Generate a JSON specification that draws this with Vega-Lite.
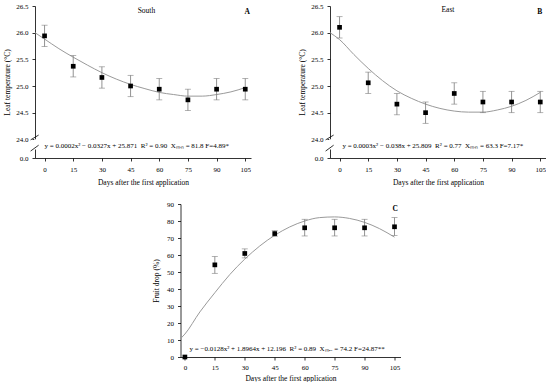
{
  "$schema": "https://vega.github.io/schema/vega-lite/v6.json",
  "padding": {"left": 3, "top": 2, "right": 0, "bottom": 0},
  "background": "white",
  "config": {
    "view": {"stroke": null},
    "font": "Liberation Serif",
    "text": {"font": "Liberation Serif"},
    "axis": {"labelFont": "Liberation Serif", "titleFont": "Liberation Serif", "labelFontSize": 7, "titleFontSize": 7.5, "titleFontWeight": "normal", "labelColor": "black", "titleColor": "black", "domainColor": "black", "tickColor": "black", "tickSize": 3, "grid": false, "domainWidth": 0.8, "tickWidth": 0.8, "labelPadding": 4}
  },
  "datasets": {
    "ptsA": [
      {"day": 0, "v": 25.94, "lo": 25.74, "hi": 26.14},
      {"day": 15, "v": 25.37, "lo": 25.17, "hi": 25.57},
      {"day": 30, "v": 25.16, "lo": 24.96, "hi": 25.36},
      {"day": 45, "v": 25.0, "lo": 24.8, "hi": 25.2},
      {"day": 60, "v": 24.94, "lo": 24.74, "hi": 25.14},
      {"day": 75, "v": 24.74, "lo": 24.54, "hi": 24.94},
      {"day": 90, "v": 24.94, "lo": 24.74, "hi": 25.14},
      {"day": 105, "v": 24.94, "lo": 24.74, "hi": 25.14}
    ],
    "curveA": [
      {"day": -5, "v": 26.0}, {"day": 0, "v": 25.88}, {"day": 7.5, "v": 25.7}, {"day": 15, "v": 25.54},
      {"day": 22.5, "v": 25.39}, {"day": 30, "v": 25.25}, {"day": 37.5, "v": 25.13}, {"day": 45, "v": 25.03},
      {"day": 52.5, "v": 24.95}, {"day": 60, "v": 24.88}, {"day": 67.5, "v": 24.84}, {"day": 75, "v": 24.81},
      {"day": 82.5, "v": 24.81}, {"day": 90, "v": 24.84}, {"day": 97.5, "v": 24.89}, {"day": 105, "v": 24.97}
    ],
    "ptsB": [
      {"day": 0, "v": 26.1, "lo": 25.9, "hi": 26.3},
      {"day": 15, "v": 25.06, "lo": 24.86, "hi": 25.26},
      {"day": 30, "v": 24.66, "lo": 24.46, "hi": 24.86},
      {"day": 45, "v": 24.5, "lo": 24.3, "hi": 24.7},
      {"day": 60, "v": 24.86, "lo": 24.66, "hi": 25.06},
      {"day": 75, "v": 24.7, "lo": 24.5, "hi": 24.9},
      {"day": 90, "v": 24.7, "lo": 24.5, "hi": 24.9},
      {"day": 105, "v": 24.7, "lo": 24.5, "hi": 24.9}
    ],
    "curveB": [
      {"day": -5, "v": 26.0}, {"day": 0, "v": 25.87}, {"day": 7.5, "v": 25.59}, {"day": 15, "v": 25.33},
      {"day": 22.5, "v": 25.1}, {"day": 30, "v": 24.91}, {"day": 37.5, "v": 24.77}, {"day": 45, "v": 24.66},
      {"day": 52.5, "v": 24.58}, {"day": 60, "v": 24.53}, {"day": 67.5, "v": 24.51}, {"day": 75, "v": 24.51},
      {"day": 82.5, "v": 24.55}, {"day": 90, "v": 24.62}, {"day": 97.5, "v": 24.73}, {"day": 105, "v": 24.88}
    ],
    "ptsC": [
      {"day": 0, "v": 0, "lo": 0, "hi": 0},
      {"day": 15, "v": 54.2, "lo": 49.2, "hi": 59.1},
      {"day": 30, "v": 60.9, "lo": 58.3, "hi": 63.6},
      {"day": 45, "v": 72.6, "lo": 71.0, "hi": 74.3},
      {"day": 60, "v": 76.0, "lo": 71.2, "hi": 81.0},
      {"day": 75, "v": 76.0, "lo": 71.2, "hi": 81.0},
      {"day": 90, "v": 76.0, "lo": 71.2, "hi": 81.0},
      {"day": 105, "v": 76.6, "lo": 71.4, "hi": 82.0}
    ],
    "curveC": [
      {"day": -2, "v": 11.0}, {"day": 0, "v": 13.5}, {"day": 7.5, "v": 26.5}, {"day": 15, "v": 37.8},
      {"day": 22.5, "v": 48.5}, {"day": 30, "v": 57.6}, {"day": 37.5, "v": 65.3}, {"day": 45, "v": 71.6},
      {"day": 52.5, "v": 76.5}, {"day": 60, "v": 80.0}, {"day": 67.5, "v": 82.0}, {"day": 75, "v": 82.4},
      {"day": 82.5, "v": 81.5}, {"day": 90, "v": 79.2}, {"day": 97.5, "v": 75.5}, {"day": 105, "v": 70.5}
    ],
    "txtA": [
      {"day": 53.3, "v": 26.41, "text": "South", "kind": "title"},
      {"day": 106, "v": 26.39, "text": "A", "kind": "letter"},
      {"day": 0, "v": 23.87, "text": "y = 0.0002x² − 0.0327x + 25.871\u00a0\u00a0R² = 0.90\u00a0\u00a0Xₘᵢₙ = 81.8 F=4.89*", "kind": "eq"}
    ],
    "txtB": [
      {"day": 56.7, "v": 26.42, "text": "East", "kind": "title"},
      {"day": 104.7, "v": 26.39, "text": "B", "kind": "letter"},
      {"day": 1.5, "v": 23.87, "text": "y = 0.0003x² − 0.038x + 25.809\u00a0\u00a0R² = 0.77\u00a0\u00a0Xₘᵢₙ = 63.3 F=7.17*", "kind": "eq"}
    ],
    "txtC": [
      {"day": 105.3, "v": 87, "text": "C", "kind": "letter"},
      {"day": 2.3, "v": 5, "text": "y = −0.0128x² + 1.8964x + 12.196\u00a0\u00a0R² = 0.89\u00a0\u00a0Xₘₐₓ = 74.2 F=24.87**", "kind": "eq"}
    ],
    "brk": [
      {"day": -7.3, "v": 23.99, "day2": -3.1, "v2": 24.08},
      {"day": -7.3, "v": 23.78, "day2": -3.1, "v2": 23.89}
    ],
    "gap": [
      {"day": -5, "v": 23.81, "v2": 24.0}
    ]
  },
  "vconcat": [
    {
      "hconcat": [
        {
          "width": 216, "height": 152,
          "encoding": {
            "x": {"field": "day", "type": "quantitative", "scale": {"domain": [-5, 108], "nice": false, "zero": false}, "axis": {"values": [0, 15, 30, 45, 60, 75, 90, 105], "title": "Days after the first application", "titlePadding": 6}},
            "y": {"field": "v", "type": "quantitative", "scale": {"domain": [23.65, 26.5], "nice": false, "zero": false}, "axis": {"values": [23.65, 24, 24.5, 25, 25.5, 26, 26.5], "labelExpr": "datum.value < 23.9 ? '0.0' : format(datum.value, '.1f')", "title": "Leaf temperature (°C)", "titlePadding": 4}}
          },
          "layer": [
            {"data": {"name": "curveA"}, "mark": {"type": "line", "color": "#9a9a9a", "strokeWidth": 1, "interpolate": "monotone"}},
            {"data": {"name": "gap"}, "mark": {"type": "rule", "color": "white", "strokeWidth": 2}, "encoding": {"y2": {"field": "v2"}}},
            {"data": {"name": "brk"}, "mark": {"type": "rule", "color": "black", "strokeWidth": 0.8}, "encoding": {"x2": {"field": "day2"}, "y2": {"field": "v2"}}},
            {"data": {"name": "ptsA"}, "mark": {"type": "errorbar", "color": "#777", "ticks": {"size": 6, "color": "#777", "thickness": 0.8}, "rule": {"strokeWidth": 0.8}}, "encoding": {"y": {"field": "lo", "type": "quantitative", "title": "Leaf temperature (°C)"}, "y2": {"field": "hi"}}},
            {"data": {"name": "ptsA"}, "mark": {"type": "square", "color": "black", "opacity": 1, "size": 22}},
            {"data": {"name": "txtA"}, "transform": [{"filter": "datum.kind == 'title'"}], "mark": {"type": "text", "fontSize": 7.5, "color": "black", "align": "center", "baseline": "middle"}, "encoding": {"text": {"field": "text"}}},
            {"data": {"name": "txtA"}, "transform": [{"filter": "datum.kind == 'letter'"}], "mark": {"type": "text", "fontSize": 7.5, "fontWeight": "bold", "color": "black", "align": "center", "baseline": "middle"}, "encoding": {"text": {"field": "text"}}},
            {"data": {"name": "txtA"}, "transform": [{"filter": "datum.kind == 'eq'"}], "mark": {"type": "text", "fontSize": 7, "color": "black", "align": "left", "baseline": "middle"}, "encoding": {"text": {"field": "text"}}}
          ]
        },
        {
          "width": 216, "height": 152,
          "encoding": {
            "x": {"field": "day", "type": "quantitative", "scale": {"domain": [-5, 108], "nice": false, "zero": false}, "axis": {"values": [0, 15, 30, 45, 60, 75, 90, 105], "title": "Days after the first application", "titlePadding": 6}},
            "y": {"field": "v", "type": "quantitative", "scale": {"domain": [23.65, 26.5], "nice": false, "zero": false}, "axis": {"values": [23.65, 24, 24.5, 25, 25.5, 26, 26.5], "labelExpr": "datum.value < 23.9 ? '0.0' : format(datum.value, '.1f')", "title": "Leaf temperature (°C)", "titlePadding": 4}}
          },
          "layer": [
            {"data": {"name": "curveB"}, "mark": {"type": "line", "color": "#9a9a9a", "strokeWidth": 1, "interpolate": "monotone"}},
            {"data": {"name": "gap"}, "mark": {"type": "rule", "color": "white", "strokeWidth": 2}, "encoding": {"y2": {"field": "v2"}}},
            {"data": {"name": "brk"}, "mark": {"type": "rule", "color": "black", "strokeWidth": 0.8}, "encoding": {"x2": {"field": "day2"}, "y2": {"field": "v2"}}},
            {"data": {"name": "ptsB"}, "mark": {"type": "errorbar", "color": "#777", "ticks": {"size": 6, "color": "#777", "thickness": 0.8}, "rule": {"strokeWidth": 0.8}}, "encoding": {"y": {"field": "lo", "type": "quantitative", "title": "Leaf temperature (°C)"}, "y2": {"field": "hi"}}},
            {"data": {"name": "ptsB"}, "mark": {"type": "square", "color": "black", "opacity": 1, "size": 22}},
            {"data": {"name": "txtB"}, "transform": [{"filter": "datum.kind == 'title'"}], "mark": {"type": "text", "fontSize": 7.5, "color": "black", "align": "center", "baseline": "middle"}, "encoding": {"text": {"field": "text"}}},
            {"data": {"name": "txtB"}, "transform": [{"filter": "datum.kind == 'letter'"}], "mark": {"type": "text", "fontSize": 7.5, "fontWeight": "bold", "color": "black", "align": "center", "baseline": "middle"}, "encoding": {"text": {"field": "text"}}},
            {"data": {"name": "txtB"}, "transform": [{"filter": "datum.kind == 'eq'"}], "mark": {"type": "text", "fontSize": 7, "color": "black", "align": "left", "baseline": "middle"}, "encoding": {"text": {"field": "text"}}}
          ]
        }
      ],
      "spacing": 47
    },
    {
      "width": 220, "height": 153,
      "encoding": {
        "x": {"field": "day", "type": "quantitative", "scale": {"domain": [-2.2, 108], "nice": false, "zero": false}, "axis": {"values": [0, 15, 30, 45, 60, 75, 90, 105], "title": "Days after the first application", "titlePadding": 4, "labelPadding": 3}},
        "y": {"field": "v", "type": "quantitative", "scale": {"domain": [0, 90], "nice": false}, "axis": {"values": [0, 10, 20, 30, 40, 50, 60, 70, 80, 90], "title": "Fruit drop (%)", "titlePadding": 6}}
      },
      "layer": [
        {"data": {"name": "curveC"}, "mark": {"type": "line", "color": "#9a9a9a", "strokeWidth": 1, "interpolate": "monotone"}},
        {"data": {"name": "ptsC"}, "transform": [{"filter": "datum.day > 0"}], "mark": {"type": "errorbar", "color": "#777", "ticks": {"size": 6, "color": "#777", "thickness": 0.8}, "rule": {"strokeWidth": 0.8}}, "encoding": {"y": {"field": "lo", "type": "quantitative", "title": "Fruit drop (%)"}, "y2": {"field": "hi"}}},
        {"data": {"name": "ptsC"}, "mark": {"type": "square", "color": "black", "opacity": 1, "size": 22}},
        {"data": {"name": "txtC"}, "transform": [{"filter": "datum.kind == 'letter'"}], "mark": {"type": "text", "fontSize": 7.5, "fontWeight": "bold", "color": "black", "align": "center", "baseline": "middle"}, "encoding": {"text": {"field": "text"}}},
        {"data": {"name": "txtC"}, "transform": [{"filter": "datum.kind == 'eq'"}], "mark": {"type": "text", "fontSize": 7, "color": "black", "align": "left", "baseline": "middle"}, "encoding": {"text": {"field": "text"}}}
      ]
    }
  ],
  "spacing": 14,
  "center": true
}
